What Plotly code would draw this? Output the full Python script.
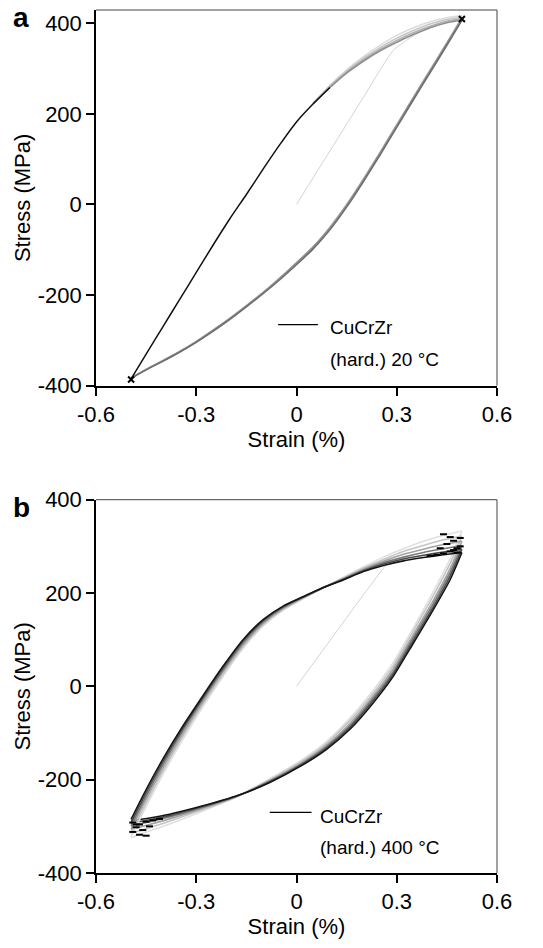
import plotly.graph_objects as go

# ---------------- Panel a: CuCrZr (hard.) 20 °C ----------------
a_init_x = [0.0, 0.10, 0.20, 0.29, 0.35, 0.42, 0.493]
a_init_y = [0, 118, 236, 340, 372, 398, 410]

a_up_left_x = [-0.495, -0.45, -0.40, -0.35, -0.30, -0.25, -0.20, -0.15, -0.10, -0.05, 0.00, 0.05, 0.10]
a_up_left_y = [-385, -330, -270, -210, -150, -90, -32, 22, 78, 132, 182, 222, 258]

a_up_right_x = [0.05, 0.10, 0.15, 0.20, 0.25, 0.30, 0.35, 0.40, 0.45, 0.495]
a_up_right_c1_y = [224, 263, 297, 326, 351, 373, 390, 403, 412, 416]
a_up_right_c2_y = [223, 261, 294, 322, 346, 367, 384, 398, 408, 413]
a_up_right_c3_y = [223, 260, 292, 319, 342, 362, 379, 393, 404, 410]
a_up_right_c4_y = [222, 258, 290, 316, 339, 358, 375, 390, 401, 407]

a_dn_x = [0.495, 0.45, 0.40, 0.35, 0.30, 0.25, 0.20, 0.15, 0.10, 0.05, 0.00, -0.05,
          -0.10, -0.15, -0.20, -0.25, -0.30, -0.35, -0.40, -0.45, -0.495]
a_dn_c1_y = [412, 357, 297, 237, 176, 115, 56, 0, -50, -93, -128, -162, -194, -223, -251, -277, -302, -324, -344, -364, -382]
a_dn_c2_y = [409, 354, 294, 234, 173, 112, 53, -3, -53, -95, -130, -164, -195, -224, -252, -278, -303, -325, -345, -364, -383]
a_dn_c3_y = [406, 351, 291, 231, 170, 109, 50, -6, -56, -98, -133, -166, -197, -226, -254, -280, -304, -326, -346, -365, -384]

a_tip_x = [0.495, -0.495]
a_tip_y = [409, -386]

# ---------------- Panel b: CuCrZr (hard.) 400 °C ----------------
b_init_x = [0.0, 0.10, 0.20, 0.265]
b_init_y = [0, 98, 196, 258]

b_up_x = [-0.495, -0.46, -0.40, -0.34, -0.28, -0.22, -0.16, -0.10, -0.04, 0.02, 0.08,
          0.14, 0.20, 0.26, 0.32, 0.38, 0.44, 0.495]
b_up_c1_y = [-322, -272, -189, -114, -44, 21, 81, 129, 163, 188, 211, 234, 256, 277, 295, 311, 324, 333]
b_up_c2_y = [-314, -264, -182, -107, -38, 26, 85, 132, 165, 189, 211, 232, 253, 272, 289, 302, 314, 322]
b_up_c3_y = [-306, -256, -175, -101, -33, 31, 89, 135, 167, 190, 211, 231, 251, 268, 283, 294, 304, 311]
b_up_c4_y = [-299, -249, -168, -95, -28, 35, 93, 138, 169, 191, 212, 230, 249, 265, 277, 287, 295, 302]
b_up_c5_y = [-292, -242, -162, -90, -24, 39, 97, 141, 171, 192, 212, 229, 247, 262, 273, 281, 288, 294]
b_up_c6_y = [-285, -235, -156, -85, -20, 43, 100, 143, 172, 192, 212, 228, 246, 259, 269, 276, 282, 287]

b_dn_x = [0.495, 0.46, 0.41, 0.35, 0.29, 0.23, 0.16, 0.09, 0.015, -0.08, -0.18, -0.28, -0.38, -0.44, -0.495]
b_dn_c1_y = [332, 274, 204, 126, 52, -8, -68, -118, -158, -198, -237, -267, -295, -310, -324]
b_dn_c2_y = [322, 264, 195, 119, 45, -14, -73, -122, -161, -200, -237, -264, -289, -303, -315]
b_dn_c3_y = [311, 253, 185, 111, 38, -20, -79, -126, -164, -202, -236, -261, -284, -296, -306]
b_dn_c4_y = [302, 245, 178, 105, 32, -25, -84, -129, -166, -203, -236, -259, -280, -290, -299]
b_dn_c5_y = [294, 237, 171, 99, 27, -30, -88, -132, -168, -205, -235, -257, -277, -286, -293]
b_dn_c6_y = [287, 229, 165, 93, 22, -35, -92, -135, -170, -206, -235, -256, -274, -282, -288]

b_tip_x = [0.42, 0.44, 0.46, 0.47, 0.48, 0.49, 0.45, 0.47, 0.43, 0.40, 0.49, 0.46, 0.44, 0.48,
           -0.49, -0.47, -0.45, -0.48, -0.43, -0.46, -0.49, -0.44, -0.41, -0.47, -0.48, -0.45]
b_tip_y = [282, 285, 289, 292, 296, 300, 305, 312, 296, 280, 318, 320, 326, 287,
           -292, -296, -290, -302, -287, -308, -312, -300, -284, -318, -296, -320]

# tick values / labels
x_ticks = [-0.6, -0.3, 0, 0.3, 0.6]
x_tick_text = ["-0.6", "-0.3", "0", "0.3", "0.6"]
y_ticks = [-400, -200, 0, 200, 400]
y_tick_text = ["-400", "-200", "0", "200", "400"]

FONT = "Liberation Sans, Arial, sans-serif"

fig = go.Figure()

def line(x, y, color, width, xa, ya):
    fig.add_trace(go.Scatter(x=x, y=y, mode="lines", xaxis=xa, yaxis=ya,
                             line=dict(color=color, width=width, shape="spline", smoothing=0.6),
                             hoverinfo="skip", showlegend=False))

# panel a
line(a_init_x, a_init_y, "#c8c8c8", 0.8, "x", "y")
for yy, c in [(a_dn_c1_y, "#a0a0a0"), (a_dn_c2_y, "#8a8a8a"), (a_dn_c3_y, "#6e6e6e")]:
    line(a_dn_x, yy, c, 1.5, "x", "y")
for yy, c in [(a_up_right_c1_y, "#dcdcdc"), (a_up_right_c2_y, "#c6c6c6"),
              (a_up_right_c3_y, "#b0b0b0"), (a_up_right_c4_y, "#909090")]:
    line(a_up_right_x, yy, c, 1.6, "x", "y")
line(a_up_left_x, a_up_left_y, "#111111", 1.5, "x", "y")
fig.add_trace(go.Scatter(x=a_tip_x, y=a_tip_y, mode="markers", xaxis="x", yaxis="y",
                         marker=dict(symbol="x-thin", size=6, color="black", line=dict(width=2, color="black")),
                         hoverinfo="skip", showlegend=False))

# panel b
line(b_init_x, b_init_y, "#c8c8c8", 0.8, "x2", "y2")
cols_b = ["#e0e0e0", "#c4c4c4", "#a2a2a2", "#7a7a7a", "#4a4a4a", "#151515"]
for yy, c in zip([b_dn_c1_y, b_dn_c2_y, b_dn_c3_y, b_dn_c4_y, b_dn_c5_y, b_dn_c6_y], cols_b):
    line(b_dn_x, yy, c, 1.6, "x2", "y2")
for yy, c in zip([b_up_c1_y, b_up_c2_y, b_up_c3_y, b_up_c4_y, b_up_c5_y, b_up_c6_y], cols_b):
    line(b_up_x, yy, c, 1.6, "x2", "y2")
fig.add_trace(go.Scatter(x=b_tip_x, y=b_tip_y, mode="markers", xaxis="x2", yaxis="y2",
                         marker=dict(symbol="line-ew", size=5, color="black", line=dict(width=2, color="black")),
                         hoverinfo="skip", showlegend=False))

axis_common = dict(showgrid=False, zeroline=False, showline=True, linecolor="black", linewidth=1.5,
                   ticks="outside", ticklen=8, tickwidth=1.5, tickcolor="black", automargin=False,
                   tickfont=dict(family=FONT, size=22, color="black"))

# Page body margin is removed (post_script) so the figure fills the window exactly.
W, H = 543, 948
M_L, M_R, M_T, M_B = 96, 46, 10, 74.5
H_PLOT = H - M_T - M_B
A_BOTTOM = 386.0   # px of panel a x-axis
B_TOP = 500.0      # px of panel b top
dom_a = [(H - M_B - A_BOTTOM) / H_PLOT, 1.0]
dom_b = [0.0, (H - M_B - B_TOP) / H_PLOT]

fig.update_layout(
    width=W, height=H,
    margin=dict(l=M_L, r=M_R, t=M_T, b=M_B, autoexpand=False),
    paper_bgcolor="white", plot_bgcolor="white",
    showlegend=False,
    xaxis=dict(axis_common, domain=[0, 1], range=[-0.6, 0.6], anchor="y",
               tickvals=x_ticks, ticktext=x_tick_text,
               title=dict(text="Strain (%)", font=dict(family=FONT, size=22, color="black"), standoff=5)),
    yaxis=dict(axis_common, domain=dom_a, range=[-400, 429], anchor="x",
               tickvals=y_ticks, ticktext=y_tick_text,
               title=dict(text="Stress (MPa)", font=dict(family=FONT, size=22, color="black"), standoff=1)),
    xaxis2=dict(axis_common, domain=[0, 1], range=[-0.6, 0.6], anchor="y2",
                tickvals=x_ticks, ticktext=x_tick_text,
                title=dict(text="Strain (%)", font=dict(family=FONT, size=22, color="black"), standoff=5)),
    yaxis2=dict(axis_common, domain=dom_b, range=[-400, 400], anchor="x2",
                tickvals=y_ticks, ticktext=y_tick_text,
                title=dict(text="Stress (MPa)", font=dict(family=FONT, size=22, color="black"), standoff=1)),
)

# top/right frame lines (thin grey)
for xr, yr in [("x domain", "y domain"), ("x2 domain", "y2 domain")]:
    fig.add_shape(type="line", xref=xr, yref=yr, x0=0, x1=1, y0=1, y1=1, line=dict(color="#444444", width=1))
    fig.add_shape(type="line", xref=xr, yref=yr, x0=1, x1=1, y0=0, y1=1, line=dict(color="#444444", width=1))

# legend-like annotations
fig.add_shape(type="line", xref="x", yref="y", x0=-0.055, x1=0.064, y0=-265, y1=-265, line=dict(color="black", width=1.2))
fig.add_annotation(xref="x", yref="y", x=0.094, y=-272, text="CuCrZr", showarrow=False, xanchor="left",
                   font=dict(family=FONT, size=19, color="black"))
fig.add_annotation(xref="x", yref="y", x=0.094, y=-343, text="(hard.) 20 °C", showarrow=False, xanchor="left",
                   font=dict(family=FONT, size=19, color="black"))

fig.add_shape(type="line", xref="x2", yref="y2", x0=-0.08, x1=0.045, y0=-270, y1=-270, line=dict(color="black", width=1.2))
fig.add_annotation(xref="x2", yref="y2", x=0.063, y=-278, text="CuCrZr", showarrow=False, xanchor="left",
                   font=dict(family=FONT, size=19, color="black"))
fig.add_annotation(xref="x2", yref="y2", x=0.063, y=-346, text="(hard.) 400 °C", showarrow=False, xanchor="left",
                   font=dict(family=FONT, size=19, color="black"))

# panel letters (box kept inside the page)
PLOT_W = W - M_L - M_R
fig.add_annotation(xref="paper", yref="paper", x=(21 - M_L) / PLOT_W, y=(H - M_B - 18) / H_PLOT, text="<b>a</b>",
                   showarrow=False, xanchor="center", yanchor="middle", font=dict(family=FONT, size=28, color="black"))
fig.add_annotation(xref="paper", yref="paper", x=(21 - M_L) / PLOT_W, y=(H - M_B - 508) / H_PLOT, text="<b>b</b>",
                   showarrow=False, xanchor="center", yanchor="middle", font=dict(family=FONT, size=28, color="black"))

fig.write_html("out.html", config={"displayModeBar": False},
               post_script="document.body.style.margin='0';")
